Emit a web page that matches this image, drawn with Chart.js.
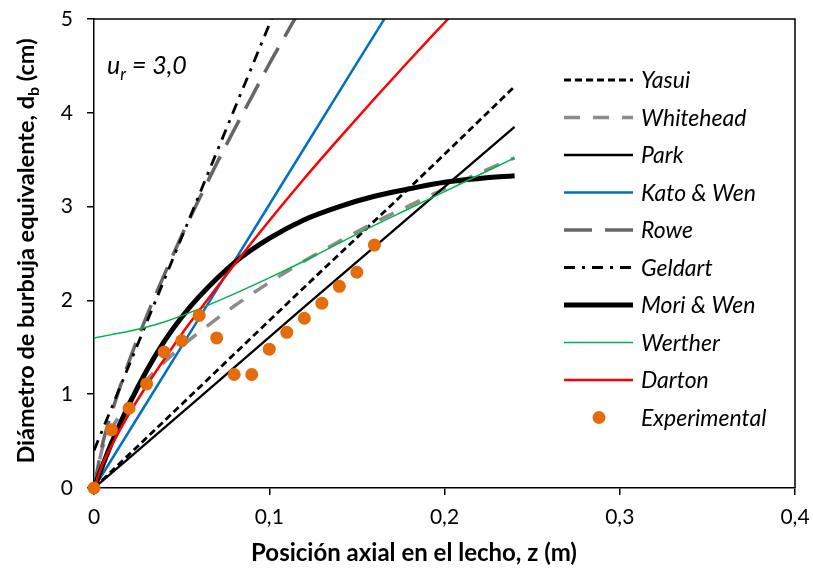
<!DOCTYPE html>
<html lang="es">
<head>
<meta charset="utf-8">
<title>Diámetro de burbuja equivalente</title>
<script src="https://cdn.jsdelivr.net/npm/chart.js@4.4.1/dist/chart.umd.min.js"></script>
<style>
  html, body { margin: 0; padding: 0; background: #fff; }
  #wrap { width: 813px; height: 571px; }
</style>
</head>
<body>
<div id="wrap"><canvas id="chart" width="813" height="571"></canvas></div>
<script>
// z (m) -> d_b (cm)
var zYasui = [0, 0.06, 0.12, 0.18, 0.24];
var dbYasui = [0, 1.07, 2.14, 3.20, 4.28];

var zWhitehead = [0, 0.005, 0.01, 0.02, 0.03, 0.04, 0.05, 0.06, 0.08, 0.10, 0.12, 0.14, 0.16, 0.18, 0.20, 0.22, 0.24];
var dbWhitehead = [0, 0.44, 0.63, 0.92, 1.15, 1.34, 1.51, 1.66, 1.94, 2.19, 2.42, 2.63, 2.83, 3.01, 3.19, 3.36, 3.52];

var zPark = [0, 0.06, 0.12, 0.18, 0.24];
var dbPark = [0, 0.96, 1.93, 2.89, 3.85];

var zKatoWen = [0, 0.05, 0.10, 0.15, 0.17];
var dbKatoWen = [0, 1.51, 3.02, 4.53, 5.13];

var zRowe = [0, 0.005, 0.01, 0.02, 0.03, 0.04, 0.05, 0.06, 0.07, 0.08, 0.09, 0.10, 0.11, 0.12];
var dbRowe = [0, 0.48, 0.80, 1.35, 1.83, 2.27, 2.69, 3.08, 3.46, 3.82, 4.17, 4.52, 4.85, 5.18];

var zGeldart = [0, 0.05, 0.10, 0.11];
var dbGeldart = [0.40, 2.67, 4.94, 5.39];

var zMoriWen = [0, 0.01, 0.02, 0.03, 0.04, 0.05, 0.06, 0.08, 0.10, 0.12, 0.14, 0.16, 0.18, 0.20, 0.22, 0.24];
var dbMoriWen = [0, 0.48, 0.89, 1.25, 1.56, 1.82, 2.04, 2.40, 2.66, 2.86, 3.00, 3.11, 3.19, 3.26, 3.30, 3.33];

var zWerther = [0, 0.01, 0.02, 0.04, 0.06, 0.08, 0.10, 0.12, 0.14, 0.16, 0.18, 0.20, 0.22, 0.24];
var dbWerther = [1.60, 1.635, 1.67, 1.77, 1.91, 2.07, 2.24, 2.42, 2.61, 2.80, 2.98, 3.16, 3.34, 3.52];

var zDarton = [0, 0.005, 0.01, 0.02, 0.03, 0.04, 0.05, 0.06, 0.08, 0.10, 0.12, 0.14, 0.16, 0.18, 0.20, 0.21];
var dbDarton = [0, 0.26, 0.45, 0.79, 1.09, 1.37, 1.64, 1.89, 2.38, 2.85, 3.30, 3.73, 4.15, 4.56, 4.96, 5.16];

var zExp = [0, 0.01, 0.02, 0.03, 0.04, 0.05, 0.06, 0.07, 0.08, 0.09, 0.10, 0.11, 0.12, 0.13, 0.14, 0.15, 0.16];
var dbExp = [0, 0.62, 0.85, 1.11, 1.45, 1.57, 1.84, 1.60, 1.21, 1.21, 1.48, 1.66, 1.81, 1.97, 2.15, 2.30, 2.59];

var xTicks = [0, 0.1, 0.2, 0.3, 0.4];
var yTicks = [0, 1, 2, 3, 4, 5];

var FONT = 'Lato, "Open Sans", sans-serif';

function pts(xs, ys) {
  return xs.map(function (x, i) { return { x: x, y: ys[i] }; });
}

function lineSet(label, xs, ys, color, width, dash, order) {
  return {
    label: label,
    data: pts(xs, ys),
    showLine: true,
    borderColor: color,
    backgroundColor: color,
    borderWidth: width,
    borderDash: dash,
    pointRadius: 0,
    cubicInterpolationMode: 'monotone',
    clip: 0,
    order: order
  };
}

function comma(v) {
  return v === 0 ? '0' : String(Math.round(v * 10) / 10).replace('.', ',');
}

// draw a string with a subscript part
function richText(ctx, parts, x, y, font, subFont, shift, align) {
  var w = 0;
  parts.forEach(function (p) {
    ctx.font = p[1] ? subFont : font;
    w += ctx.measureText(p[0]).width;
  });
  var cx = align === 'center' ? x - w / 2 : x;
  parts.forEach(function (p) {
    ctx.font = p[1] ? subFont : font;
    ctx.fillText(p[0], cx, p[1] ? y + shift : y);
    cx += ctx.measureText(p[0]).width;
  });
}

// no automatic label padding, so the plot box stays where the layout puts it
function noPad(s) {
  s.paddingTop = 0;
  s.paddingBottom = 0;
  s.paddingLeft = 0;
  s.paddingRight = 0;
}

var extras = {
  id: 'extras',
  afterDraw: function (chart) {
    var ctx = chart.ctx;
    var a = chart.chartArea;
    ctx.save();

    // top and right frame
    ctx.strokeStyle = '#000';
    ctx.lineWidth = 1.5;
    ctx.beginPath();
    ctx.moveTo(a.left, a.top);
    ctx.lineTo(a.right, a.top);
    ctx.lineTo(a.right, a.bottom);
    ctx.stroke();

    // legend inside the plot
    ctx.textBaseline = 'middle';
    ctx.textAlign = 'left';
    chart.data.datasets.forEach(function (ds, i) {
      var y = 80 + i * 37.5;
      if (ds.showLine === false) {
        ctx.fillStyle = ds.pointBackgroundColor;
        ctx.beginPath();
        ctx.arc(599, y, 6.5, 0, Math.PI * 2);
        ctx.fill();
      } else {
        ctx.strokeStyle = ds.borderColor;
        ctx.lineWidth = ds.borderWidth;
        ctx.setLineDash(ds.borderDash || []);
        ctx.beginPath();
        ctx.moveTo(564, y);
        ctx.lineTo(633, y);
        ctx.stroke();
        ctx.setLineDash([]);
      }
      ctx.fillStyle = '#000';
      ctx.font = 'italic 23px ' + FONT;
      ctx.fillText(ds.label, 641, y + 1);
    });

    ctx.fillStyle = '#000';
    ctx.textBaseline = 'alphabetic';

    // u_r annotation
    richText(ctx, [['u', false], ['r', true], [' = 3,0', false]], 107, 74,
      'italic 25px ' + FONT, 'italic 17px ' + FONT, 6, 'left');

    // axis titles
    richText(ctx, [['Posición axial en el lecho, z (m)', false]], 414, 561,
      'bold 24px ' + FONT, 'bold 16px ' + FONT, 5, 'center');

    ctx.translate(34, 251);
    ctx.rotate(-Math.PI / 2);
    richText(ctx, [['Diámetro de burbuja equivalente, d', false], ['b', true], [' (cm)', false]], 0, 0,
      'bold 23.5px ' + FONT, 'bold 16px ' + FONT, 5, 'center');

    ctx.restore();
  }
};

var datasets = [
  lineSet('Yasui', zYasui, dbYasui, '#000000', 2.8, [7, 4], 10),
  lineSet('Whitehead', zWhitehead, dbWhitehead, '#8C8C8C', 3.5, [16, 13], 9),
  lineSet('Park', zPark, dbPark, '#000000', 2.3, [], 8),
  lineSet('Kato & Wen', zKatoWen, dbKatoWen, '#0070C0', 2.5, [], 7),
  lineSet('Rowe', zRowe, dbRowe, '#666666', 3.5, [28, 13], 6),
  lineSet('Geldart', zGeldart, dbGeldart, '#000000', 2.8, [11, 7, 3, 7], 5),
  lineSet('Mori & Wen', zMoriWen, dbMoriWen, '#000000', 5, [], 4),
  lineSet('Werther', zWerther, dbWerther, '#00B050', 1.5, [], 3),
  lineSet('Darton', zDarton, dbDarton, '#FF0000', 2.5, [], 2),
  {
    label: 'Experimental',
    data: pts(zExp, dbExp),
    showLine: false,
    pointRadius: 6.5,
    pointHoverRadius: 6.5,
    pointBackgroundColor: '#E46C0A',
    pointBorderWidth: 0,
    backgroundColor: '#E46C0A',
    borderColor: '#E46C0A',
    clip: false,
    order: 0
  }
];

new Chart(document.getElementById('chart'), {
  type: 'scatter',
  data: { datasets: datasets },
  options: {
    responsive: false,
    devicePixelRatio: 1,
    animation: false,
    events: [],
    layout: { padding: { left: 0, right: 18, top: 19, bottom: 0 } },
    plugins: {
      legend: { display: false },
      tooltip: { enabled: false },
      title: { display: false }
    },
    scales: {
      x: {
        type: 'linear',
        min: 0,
        max: 0.4,
        afterFit: function (s) { s.height = 83; noPad(s); },
        afterBuildTicks: function (s) { s.ticks = xTicks.map(function (v) { return { value: v }; }); },
        border: { color: '#000', width: 1.5 },
        grid: { drawOnChartArea: false, drawTicks: true, tickLength: 7, color: '#000', lineWidth: 1.5 },
        ticks: {
          color: '#000',
          padding: 10,
          maxRotation: 0,
          font: { family: FONT, size: 21 },
          callback: function (v) { return comma(v); }
        }
      },
      y: {
        type: 'linear',
        min: 0,
        max: 5,
        afterFit: function (s) { s.width = 94; noPad(s); },
        afterBuildTicks: function (s) { s.ticks = yTicks.map(function (v) { return { value: v }; }); },
        border: { color: '#000', width: 1.5 },
        grid: { drawOnChartArea: false, drawTicks: true, tickLength: 7, color: '#000', lineWidth: 1.5 },
        ticks: {
          color: '#000',
          padding: 14,
          font: { family: FONT, size: 21 },
          callback: function (v) { return comma(v); }
        }
      }
    }
  },
  plugins: [extras]
});
</script>
</body>
</html>
